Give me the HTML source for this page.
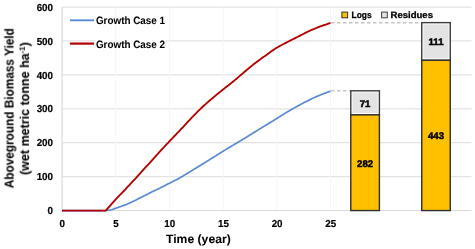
<!DOCTYPE html>
<html><head><meta charset="utf-8"><style>
html,body{margin:0;padding:0;background:#fff;}
body{width:475px;height:249px;overflow:hidden;}
svg{display:block;}
text{will-change:transform;text-rendering:geometricPrecision;}
text{font-family:"Liberation Sans", sans-serif;font-weight:bold;fill:#000;stroke:#000;stroke-width:0.35px;}
.tk{font-size:10.1px;stroke-width:0.2px;}
.dl{font-size:9.6px;text-anchor:middle;stroke-width:0.5px;}
.lg{font-size:10.6px;stroke-width:0.05px;}
.lg2{font-size:9.2px;stroke-width:0.3px;}
.ax{font-size:12px;stroke-width:0.05px;}
</style></head><body>
<svg width="475" height="249" viewBox="0 0 475 249">
<rect width="475" height="249" fill="#fff"/>
<line x1="62.0" y1="176.63" x2="471.5" y2="176.63" stroke="#e3e3e3" stroke-width="1.2"/>
<line x1="62.0" y1="142.71" x2="471.5" y2="142.71" stroke="#e3e3e3" stroke-width="1.2"/>
<line x1="62.0" y1="108.79" x2="471.5" y2="108.79" stroke="#e3e3e3" stroke-width="1.2"/>
<line x1="62.0" y1="74.87" x2="471.5" y2="74.87" stroke="#e3e3e3" stroke-width="1.2"/>
<line x1="62.0" y1="40.95" x2="95.5" y2="40.95" stroke="#e3e3e3" stroke-width="1.2"/>
<line x1="166" y1="40.95" x2="471.5" y2="40.95" stroke="#e3e3e3" stroke-width="1.2"/>
<line x1="62.0" y1="7.03" x2="471.5" y2="7.03" stroke="#e3e3e3" stroke-width="1.2"/>
<line x1="115.70" y1="7.03" x2="115.70" y2="210.55" stroke="#f5f5f5" stroke-width="1"/>
<line x1="169.40" y1="7.03" x2="169.40" y2="210.55" stroke="#f5f5f5" stroke-width="1"/>
<line x1="223.10" y1="7.03" x2="223.10" y2="210.55" stroke="#f5f5f5" stroke-width="1"/>
<line x1="276.80" y1="7.03" x2="276.80" y2="210.55" stroke="#f5f5f5" stroke-width="1"/>
<line x1="330.50" y1="7.03" x2="330.50" y2="210.55" stroke="#f5f5f5" stroke-width="1"/>
<line x1="62.1" y1="7.03" x2="62.1" y2="210.55" stroke="#dcdcdc" stroke-width="1.3"/>
<line x1="62.0" y1="210.55" x2="471.5" y2="210.55" stroke="#d9d9d9" stroke-width="1"/>
<line x1="331.0" y1="22.8" x2="421" y2="22.8" stroke="#c4c4c4" stroke-width="1.5" stroke-dasharray="3.5 2.5"/>
<line x1="331.0" y1="90.8" x2="350" y2="90.8" stroke="#c4c4c4" stroke-width="1.5" stroke-dasharray="3.5 2.5"/>
<polyline points="62.00,210.55 104.96,210.55 106.03,210.52 107.11,210.44 108.18,210.32 109.26,210.17 110.33,210.01 111.40,209.78 112.48,209.44 113.55,209.05 114.63,208.63 115.70,208.24 116.77,207.88 117.85,207.52 118.92,207.16 120.00,206.80 121.07,206.43 122.14,206.06 123.22,205.67 124.29,205.28 125.37,204.87 126.44,204.44 127.51,204.00 128.59,203.53 129.66,203.04 130.74,202.53 131.81,202.01 132.88,201.49 133.96,200.95 135.03,200.42 136.11,199.89 137.18,199.36 138.25,198.83 139.33,198.29 140.40,197.75 141.48,197.20 142.55,196.65 143.62,196.10 144.70,195.56 145.77,195.01 146.85,194.47 147.92,193.93 148.99,193.40 150.07,192.87 151.14,192.34 152.22,191.82 153.29,191.30 154.36,190.78 155.44,190.26 156.51,189.73 157.59,189.20 158.66,188.67 159.73,188.14 160.81,187.60 161.88,187.06 162.96,186.52 164.03,185.98 165.10,185.44 166.18,184.89 167.25,184.34 168.33,183.79 169.40,183.24 170.47,182.70 171.55,182.15 172.62,181.60 173.70,181.06 174.77,180.51 175.84,179.95 176.92,179.39 177.99,178.82 179.07,178.24 180.14,177.65 181.21,177.04 182.29,176.42 183.36,175.79 184.44,175.14 185.51,174.49 186.58,173.84 187.66,173.18 188.73,172.52 189.81,171.86 190.88,171.20 191.95,170.55 193.03,169.89 194.10,169.23 195.18,168.57 196.25,167.91 197.32,167.24 198.40,166.58 199.47,165.91 200.55,165.25 201.62,164.59 202.69,163.93 203.77,163.27 204.84,162.61 205.92,161.95 206.99,161.29 208.06,160.63 209.14,159.97 210.21,159.31 211.29,158.64 212.36,157.97 213.43,157.30 214.51,156.62 215.58,155.94 216.66,155.26 217.73,154.57 218.80,153.89 219.88,153.21 220.95,152.53 222.03,151.86 223.10,151.19 224.17,150.53 225.25,149.88 226.32,149.23 227.40,148.59 228.47,147.95 229.54,147.31 230.62,146.67 231.69,146.03 232.77,145.39 233.84,144.75 234.91,144.10 235.99,143.46 237.06,142.82 238.14,142.18 239.21,141.53 240.28,140.89 241.36,140.25 242.43,139.60 243.51,138.95 244.58,138.30 245.65,137.65 246.73,136.99 247.80,136.33 248.88,135.67 249.95,135.00 251.02,134.34 252.10,133.68 253.17,133.01 254.25,132.35 255.32,131.69 256.39,131.02 257.47,130.36 258.54,129.70 259.62,129.04 260.69,128.38 261.76,127.72 262.84,127.06 263.91,126.39 264.99,125.73 266.06,125.07 267.13,124.41 268.21,123.75 269.28,123.09 270.36,122.43 271.43,121.76 272.50,121.10 273.58,120.44 274.65,119.78 275.73,119.12 276.80,118.46 277.87,117.79 278.95,117.13 280.02,116.46 281.10,115.79 282.17,115.12 283.24,114.45 284.32,113.79 285.39,113.13 286.47,112.48 287.54,111.84 288.61,111.21 289.69,110.58 290.76,109.96 291.84,109.34 292.91,108.73 293.98,108.12 295.06,107.51 296.13,106.92 297.21,106.32 298.28,105.74 299.35,105.15 300.43,104.58 301.50,104.00 302.58,103.43 303.65,102.86 304.72,102.30 305.80,101.75 306.87,101.21 307.95,100.67 309.02,100.14 310.09,99.62 311.17,99.10 312.24,98.59 313.32,98.08 314.39,97.58 315.46,97.09 316.54,96.61 317.61,96.14 318.69,95.67 319.76,95.22 320.83,94.78 321.91,94.35 322.98,93.92 324.06,93.50 325.13,93.09 326.20,92.68 327.28,92.29 328.35,91.90 329.43,91.52 330.50,91.15" fill="none" stroke="#5a89d5" stroke-width="1.7" stroke-linejoin="round"/>
<polyline points="62.00,210.55 105.71,210.55 115.70,199.36 117.04,197.98 118.38,196.59 119.73,195.20 121.07,193.80 122.41,192.40 123.75,190.99 125.10,189.58 126.44,188.16 127.78,186.74 129.12,185.31 130.47,183.88 131.81,182.44 133.15,180.99 134.50,179.54 135.84,178.09 137.18,176.63 138.52,175.16 139.87,173.69 141.21,172.20 142.55,170.72 143.89,169.23 145.24,167.73 146.58,166.24 147.92,164.76 149.26,163.27 150.61,161.78 151.95,160.29 153.29,158.80 154.63,157.31 155.98,155.83 157.32,154.35 158.66,152.89 160.00,151.43 161.34,149.97 162.69,148.52 164.03,147.08 165.37,145.64 166.72,144.20 168.06,142.78 169.40,141.35 170.74,139.94 172.09,138.54 173.43,137.15 174.77,135.76 176.11,134.37 177.45,132.97 178.80,131.57 180.14,130.16 181.48,128.73 182.82,127.28 184.17,125.83 185.51,124.37 186.85,122.92 188.19,121.47 189.54,120.04 190.88,118.63 192.22,117.23 193.56,115.83 194.91,114.44 196.25,113.07 197.59,111.71 198.94,110.37 200.28,109.06 201.62,107.77 202.96,106.52 204.31,105.29 205.65,104.09 206.99,102.90 208.33,101.73 209.68,100.57 211.02,99.42 212.36,98.27 213.70,97.14 215.05,96.02 216.39,94.90 217.73,93.80 219.07,92.71 220.41,91.62 221.76,90.54 223.10,89.46 224.44,88.38 225.78,87.33 227.13,86.28 228.47,85.24 229.81,84.19 231.16,83.13 232.50,82.06 233.84,80.98 235.18,79.86 236.53,78.73 237.87,77.58 239.21,76.42 240.55,75.26 241.90,74.10 243.24,72.95 244.58,71.82 245.92,70.69 247.27,69.56 248.61,68.44 249.95,67.32 251.29,66.21 252.63,65.12 253.98,64.05 255.32,63.00 256.66,61.97 258.00,60.97 259.35,59.99 260.69,59.02 262.03,58.05 263.38,57.10 264.72,56.15 266.06,55.20 267.40,54.23 268.75,53.26 270.09,52.29 271.43,51.32 272.77,50.38 274.12,49.46 275.46,48.57 276.80,47.73 278.14,46.94 279.49,46.18 280.83,45.45 282.17,44.74 283.51,44.04 284.86,43.35 286.20,42.66 287.54,41.97 288.88,41.27 290.23,40.59 291.57,39.91 292.91,39.23 294.25,38.56 295.60,37.89 296.94,37.22 298.28,36.54 299.62,35.85 300.97,35.16 302.31,34.46 303.65,33.76 304.99,33.07 306.34,32.39 307.68,31.74 309.02,31.11 310.36,30.51 311.71,29.93 313.05,29.36 314.39,28.81 315.73,28.26 317.08,27.73 318.42,27.21 319.76,26.70 321.10,26.20 322.44,25.71 323.79,25.23 325.13,24.76 326.47,24.29 327.81,23.84 329.16,23.40 330.50,22.97" fill="none" stroke="#b30000" stroke-width="1.85" stroke-linejoin="round"/>
<rect x="350.80" y="90.81" width="28.60" height="24.08" fill="#fff" stroke="#3a3a3a" stroke-width="1.4"/>
<rect x="352.50" y="92.51" width="25.20" height="20.48" fill="#e3e3e3"/>
<rect x="350.80" y="114.90" width="28.60" height="95.65" fill="#ffc000" stroke="#303030" stroke-width="1.4"/>
<text x="365.10" y="106.65" class="dl">71</text>
<text x="365.10" y="166.52" class="dl">282</text>
<rect x="421.75" y="22.63" width="28.50" height="37.65" fill="#fff" stroke="#3a3a3a" stroke-width="1.4"/>
<rect x="423.45" y="24.33" width="25.10" height="34.05" fill="#e3e3e3"/>
<rect x="421.75" y="60.28" width="28.50" height="150.27" fill="#ffc000" stroke="#303030" stroke-width="1.4"/>
<text x="436.00" y="45.26" class="dl">111</text>
<text x="436.00" y="139.22" class="dl">443</text>
<text x="53" y="214.25" class="tk" text-anchor="end" textLength="5.45" lengthAdjust="spacingAndGlyphs">0</text>
<text x="53" y="180.33" class="tk" text-anchor="end" textLength="16.35" lengthAdjust="spacingAndGlyphs">100</text>
<text x="53" y="146.41" class="tk" text-anchor="end" textLength="16.35" lengthAdjust="spacingAndGlyphs">200</text>
<text x="53" y="112.49" class="tk" text-anchor="end" textLength="16.35" lengthAdjust="spacingAndGlyphs">300</text>
<text x="53" y="78.57" class="tk" text-anchor="end" textLength="16.35" lengthAdjust="spacingAndGlyphs">400</text>
<text x="53" y="44.65" class="tk" text-anchor="end" textLength="16.35" lengthAdjust="spacingAndGlyphs">500</text>
<text x="53" y="10.73" class="tk" text-anchor="end" textLength="16.35" lengthAdjust="spacingAndGlyphs">600</text>
<text x="62.30" y="226.9" class="tk" text-anchor="middle" textLength="5.45" lengthAdjust="spacingAndGlyphs">0</text>
<text x="116.00" y="226.9" class="tk" text-anchor="middle" textLength="5.45" lengthAdjust="spacingAndGlyphs">5</text>
<text x="169.70" y="226.9" class="tk" text-anchor="middle" textLength="10.90" lengthAdjust="spacingAndGlyphs">10</text>
<text x="223.40" y="226.9" class="tk" text-anchor="middle" textLength="10.90" lengthAdjust="spacingAndGlyphs">15</text>
<text x="277.10" y="226.9" class="tk" text-anchor="middle" textLength="10.90" lengthAdjust="spacingAndGlyphs">20</text>
<text x="330.80" y="226.9" class="tk" text-anchor="middle" textLength="10.90" lengthAdjust="spacingAndGlyphs">25</text>
<line x1="70" y1="20.3" x2="94" y2="20.3" stroke="#5a89d5" stroke-width="1.9"/>
<line x1="70" y1="43.6" x2="94" y2="43.6" stroke="#b30000" stroke-width="2.2"/>
<text x="95.9" y="24.2" class="lg" textLength="69.2" lengthAdjust="spacingAndGlyphs">Growth Case 1</text>
<text x="95.9" y="47.5" class="lg" textLength="69.2" lengthAdjust="spacingAndGlyphs">Growth Case 2</text>
<rect x="341.9" y="12.1" width="5.7" height="5.7" fill="#ffc000" stroke="#303030" stroke-width="1"/>
<text x="351.6" y="18.1" class="lg2" textLength="20" lengthAdjust="spacingAndGlyphs">Logs</text>
<rect x="381.6" y="12.1" width="5.7" height="5.7" fill="#e3e3e3" stroke="#404040" stroke-width="1"/>
<text x="390.5" y="18.1" class="lg2" textLength="42.5" lengthAdjust="spacingAndGlyphs">Residues</text>
<text x="198.35" y="242.8" class="ax" text-anchor="middle" textLength="64.7" lengthAdjust="spacingAndGlyphs">Time (year)</text>
<text transform="translate(13.5,108.25) rotate(-90)" class="ax" style="font-size:12.9px" text-anchor="middle" textLength="160" lengthAdjust="spacingAndGlyphs">Aboveground Biomass Yield</text>
<text transform="translate(28.9,108.6) rotate(-90)" class="ax" style="font-size:12.9px" text-anchor="middle" textLength="132.6" lengthAdjust="spacingAndGlyphs">(wet metric tonne ha<tspan dy="-3.8" font-size="8">-1</tspan><tspan dy="3.8">)</tspan></text>
</svg>
</body></html>
